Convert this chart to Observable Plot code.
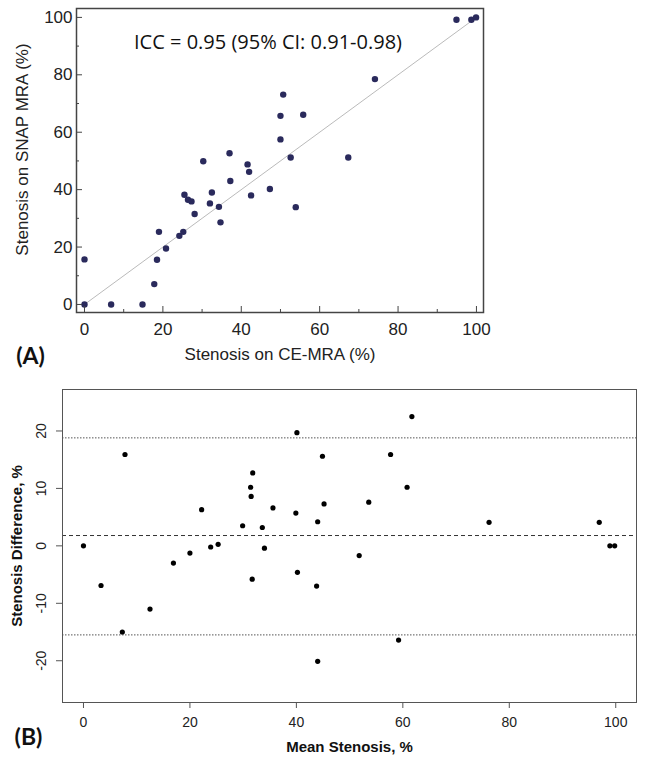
<!DOCTYPE html>
<html>
<head>
<meta charset="utf-8">
<script src="https://cdn.jsdelivr.net/npm/d3@7"></script>
<script src="https://cdn.jsdelivr.net/npm/@observablehq/plot@0.6"></script>
<style>
  html, body { margin: 0; padding: 0; background: #fff; }
  #chart { width: 645px; }
  #chart svg { display: block; }
</style>
</head>
<body>
<div id="chart"></div>
<script>
// Panel A: stenosis on CE-MRA (x) vs SNAP MRA (y), %
const ceMRA = [0, 0, 6.8, 14.8, 17.8, 18.5, 19.0, 20.8, 24.2, 25.2, 25.5, 26.4, 27.3, 28.1, 30.3, 32.0, 32.5, 34.3, 34.7, 37.0, 37.2, 41.6, 42.0, 42.5, 47.3, 50.0, 50.0, 50.7, 52.6, 53.9, 55.8, 67.3, 74.1, 94.9, 98.7, 99.9];
const snapMRA = [0, 15.7, 0, 0, 7.1, 15.6, 25.3, 19.5, 23.9, 25.3, 38.2, 36.5, 35.9, 31.5, 49.9, 35.2, 39.0, 34.0, 28.6, 52.7, 43.0, 48.8, 46.2, 38.0, 40.2, 65.7, 57.5, 73.1, 51.2, 33.9, 66.1, 51.2, 78.5, 99.2, 99.2, 100];
const identityLine = [0, 100];
const iccText = ["ICC = 0.95 (95% CI: 0.91-0.98)"];

// Panel B: Bland-Altman (mean stenosis vs difference), %
const meanStenosis = [0, 3.3, 7.3, 7.8, 12.5, 16.9, 20.0, 22.2, 23.9, 25.3, 29.9, 31.4, 31.5, 31.8, 31.7, 33.6, 34.0, 35.6, 39.9, 40.1, 40.2, 43.8, 44.0, 44.0, 44.9, 45.2, 51.8, 53.6, 57.7, 59.2, 60.8, 61.7, 76.2, 96.9, 98.9, 99.8];
const diffStenosis = [0, -6.9, -15.0, 15.9, -11.0, -3.0, -1.25, 6.3, -0.2, 0.26, 3.5, 10.2, 8.6, 12.7, -5.8, 3.2, -0.4, 6.6, 5.7, 19.7, -4.6, -7.0, 4.2, -20.1, 15.6, 7.3, -1.7, 7.6, 15.9, -16.4, 10.2, 22.5, 4.1, 4.1, 0, 0];
const meanDifference = [1.8];
const limitsOfAgreement = [18.8, -15.5];

// Tick labels
const aMajorTicks = [0, 20, 40, 60, 80, 100];
const aMinorTicks = [10, 30, 50, 70, 90];
const bXTicks = [0, 20, 40, 60, 80, 100];
const bYTicks = [-20, -10, 0, 10, 20];

const pointsA = ceMRA.map((c, i) => ({ce: c, snap: snapMRA[i]}));
const pointsB = meanStenosis.map((m, i) => ({mean: m, diff: diffStenosis[i]}));

const sans = "'Liberation Sans', Arial, Helvetica, sans-serif";
const centered = {textAnchor: "middle", lineAnchor: "middle"};

const chartA = Plot.plot({
  width: 645,
  height: 375,
  marginLeft: 76,
  marginRight: 162,
  marginTop: 8,
  marginBottom: 63,
  style: {fontFamily: sans, color: "#222", background: "#fff"},
  x: {domain: [-2.04, 101.8]},
  y: {domain: [-2.8, 103.1]},
  marks: [
    Plot.line(identityLine, {x: d => d, y: d => d, stroke: "#a8a8a8", strokeWidth: 0.8}),
    Plot.dot(pointsA, {x: "ce", y: "snap", r: 3.2, fill: "#2a2a5c"}),
    Plot.frame({stroke: "#444", strokeWidth: 1.5}),
    Plot.axisX(aMajorTicks, {tickSize: -6, tickPadding: 16, fontSize: 17, label: null, stroke: "#444"}),
    Plot.axisX(aMinorTicks, {tickSize: -3, tickFormat: () => "", label: null, stroke: "#444"}),
    Plot.axisY(aMajorTicks, {tickSize: -6, tickPadding: 10, fontSize: 17, label: null, stroke: "#444"}),
    Plot.axisY(aMinorTicks, {tickSize: -3, tickFormat: () => "", label: null, stroke: "#444"}),
    Plot.text(iccText, {frameAnchor: "top", ...centered, dx: -12, dy: 34, fontSize: 20, fontFamily: "'Open Sans', sans-serif", fill: "#111"}),
    Plot.text(["Stenosis on SNAP MRA (%)"], {frameAnchor: "left", ...centered, rotate: -90, dx: -54, dy: -11, fontSize: 17, fill: "#222"}),
    Plot.text(["Stenosis on CE-MRA (%)"], {frameAnchor: "bottom", ...centered, dy: 42, fontSize: 17, fill: "#222"}),
    Plot.text(["(A)"], {frameAnchor: "bottom-left", ...centered, dx: -46, dy: 44, fontSize: 23, fontWeight: "bold", fontFamily: "Lato, 'Open Sans', sans-serif", fill: "#111"})
  ]
});

const chartB = Plot.plot({
  width: 645,
  height: 387,
  marginLeft: 62,
  marginRight: 9,
  marginTop: 14,
  marginBottom: 60,
  style: {fontFamily: sans, color: "#222", background: "#fff"},
  x: {domain: [-3.94, 103.9]},
  y: {domain: [-27.27, 27.22]},
  marks: [
    Plot.ruleY(limitsOfAgreement, {stroke: "#555", strokeWidth: 1, strokeDasharray: "1.5,1.5"}),
    Plot.ruleY(meanDifference, {stroke: "#333", strokeWidth: 1, strokeDasharray: "4,3"}),
    Plot.dot(pointsB, {x: "mean", y: "diff", r: 2.6, fill: "#000"}),
    Plot.frame({stroke: "#555", strokeWidth: 1}),
    Plot.axisX(bXTicks, {tickSize: 6, tickPadding: 8.5, fontSize: 14, label: null, stroke: "#555"}),
    Plot.axisY(bYTicks, {tickSize: 6, tickFormat: () => "", label: null, stroke: "#555"}),
    Plot.text(bYTicks, {y: d => d, text: d => String(d), frameAnchor: "left", ...centered, rotate: -90, dx: -21, fontSize: 14, fill: "#222"}),
    Plot.text(["Stenosis Difference, %"], {frameAnchor: "left", ...centered, rotate: -90, dx: -45, fontSize: 15, fontWeight: "bold", fill: "#111"}),
    Plot.text(["Mean Stenosis, %"], {frameAnchor: "bottom", ...centered, dy: 45, fontSize: 15, fontWeight: "bold", fill: "#111"}),
    Plot.text(["(B)"], {frameAnchor: "bottom-left", ...centered, dx: -34, dy: 35, fontSize: 23, fontWeight: "bold", fontFamily: "Lato, 'Open Sans', sans-serif", fill: "#111"})
  ]
});

const container = document.getElementById("chart");
container.appendChild(chartA);
container.appendChild(chartB);
</script>
</body>
</html>
